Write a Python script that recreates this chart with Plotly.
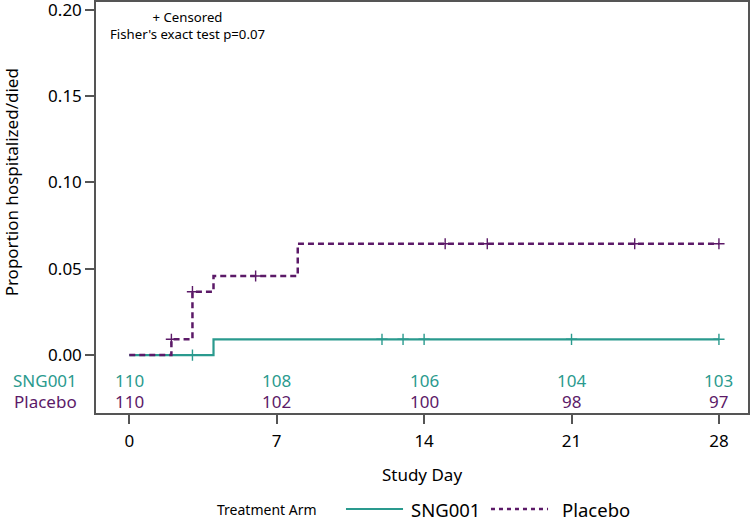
import plotly.graph_objects as go

# ---- data ----
sng_days = [0, 4, 28]
sng_prop = [0.0, 0.0091, 0.0091]
sng_cens_days = [3, 12, 13, 14, 21, 28]
sng_cens_prop = [0.0, 0.0091, 0.0091, 0.0091, 0.0091, 0.0091]

pla_days = [0, 2, 3, 4, 8, 28]
pla_prop = [0.0, 0.0091, 0.0367, 0.0458, 0.0645, 0.0645]
pla_cens_days = [2, 3, 6, 15, 17, 24, 28]
pla_cens_prop = [0.0091, 0.0367, 0.0458, 0.0645, 0.0645, 0.0645, 0.0645]

risk_days = [0, 7, 14, 21, 28]
risk_sng = [110, 108, 106, 104, 103]
risk_pla = [110, 102, 100, 98, 97]

x_ticks = [0, 7, 14, 21, 28]
y_ticks = [0.0, 0.05, 0.10, 0.15, 0.20]

TEAL = "#2A9A8E"
PURPLE = "#5C1A68"
FONT = "Noto Sans"

fig = go.Figure()

fig.add_trace(go.Scatter(x=sng_days, y=sng_prop, mode="lines", line_shape="hv",
                         line=dict(color=TEAL, width=2.2), name="SNG001", showlegend=False))
fig.add_trace(go.Scatter(x=pla_days, y=pla_prop, mode="lines", line_shape="hv",
                         line=dict(color=PURPLE, width=2.5, dash="6px,4px"), name="Placebo",
                         showlegend=False))
fig.add_trace(go.Scatter(x=sng_cens_days, y=sng_cens_prop, mode="markers", showlegend=False,
                         marker=dict(symbol="cross-thin", size=8, line=dict(color=TEAL, width=1.4))))
fig.add_trace(go.Scatter(x=pla_cens_days, y=pla_cens_prop, mode="markers", showlegend=False,
                         marker=dict(symbol="cross-thin", size=8, line=dict(color=PURPLE, width=1.4))))

annotations = []
for d, n in zip(risk_days, risk_sng):
    annotations.append(dict(x=d, y=-0.0149, xref="x", yref="y", text=str(n), showarrow=False,
                            xanchor="center", yanchor="middle",
                            font=dict(family=FONT, size=17, color=TEAL)))
for d, n in zip(risk_days, risk_pla):
    annotations.append(dict(x=d, y=-0.0271, xref="x", yref="y", text=str(n), showarrow=False,
                            xanchor="center", yanchor="middle",
                            font=dict(family=FONT, size=17, color=PURPLE)))
annotations.append(dict(x=-0.026, xref="paper", y=-0.0149, yref="y", text="SNG001", xanchor="right",
                        yanchor="middle", showarrow=False, font=dict(family=FONT, size=17, color=TEAL)))
annotations.append(dict(x=-0.026, xref="paper", y=-0.0271, yref="y", text="Placebo", xanchor="right",
                        yanchor="middle", showarrow=False, font=dict(family=FONT, size=17, color=PURPLE)))
annotations.append(dict(x=2.77, xref="x", y=0.1908, yref="y",
                        text="+ Censored<br>Fisher's exact test p=0.07", showarrow=False,
                        xanchor="center", yanchor="middle", align="center",
                        font=dict(family=FONT, size=13.2, color="black")))
annotations.append(dict(x=-0.129, xref="paper", y=0.1, yref="y", text="Proportion hospitalized/died",
                        xanchor="center", yanchor="middle",
                        textangle=-90, showarrow=False, font=dict(family=FONT, size=17, color="black")))

# legend (drawn in the bottom margin)
LEG_Y = -0.2336
annotations.append(dict(x=0.1825, xref="paper", y=LEG_Y, yref="paper", text="Treatment Arm",
                        xanchor="left", yanchor="middle", showarrow=False,
                        font=dict(family=FONT, size=14, color="black")))
annotations.append(dict(x=0.4801, xref="paper", y=LEG_Y, yref="paper", text="SNG001",
                        xanchor="left", yanchor="middle", showarrow=False,
                        font=dict(family=FONT, size=18.5, color="black")))
annotations.append(dict(x=0.7117, xref="paper", y=LEG_Y, yref="paper", text="Placebo",
                        xanchor="left", yanchor="middle", showarrow=False,
                        font=dict(family=FONT, size=18.5, color="black")))
shapes = [
    dict(type="line", xref="paper", yref="paper", x0=0.3834, x1=0.4709, y0=LEG_Y, y1=LEG_Y,
         line=dict(color=TEAL, width=2.2)),
    dict(type="line", xref="paper", yref="paper", x0=0.6058, x1=0.6933, y0=LEG_Y, y1=LEG_Y,
         line=dict(color=PURPLE, width=2.5, dash="4px,4px")),
]

fig.update_layout(
    width=751, height=517,
    margin=dict(l=96, r=3, t=2, b=104),
    plot_bgcolor="white", paper_bgcolor="white",
    font=dict(family=FONT, size=17, color="black"),
    annotations=annotations,
    shapes=shapes,
    showlegend=False,
    xaxis=dict(range=[-1.58, 29.38], tickvals=x_ticks, ticks="outside", ticklen=9, tickwidth=1.5,
               tickcolor="#555", showline=True, linecolor="#555", linewidth=1.5, mirror=True,
               showgrid=False, zeroline=False, ticklabelstandoff=3, automargin=False,
               title=dict(text="Study Day", font=dict(size=17), standoff=18),
               tickfont=dict(size=17)),
    yaxis=dict(range=[-0.0336, 0.2046], tickvals=y_ticks, tickformat=".2f", ticks="outside",
               ticklen=9, tickwidth=1.5, tickcolor="#555", showline=True, linecolor="#555",
               linewidth=1.5, mirror=True, showgrid=False, zeroline=False, automargin=False,
               ticklabeloverflow="allow", tickfont=dict(size=17)),
)

fig.write_html("out.html", config={"displayModeBar": False},
               post_script="document.body.style.margin='0';document.body.style.padding='0';")
